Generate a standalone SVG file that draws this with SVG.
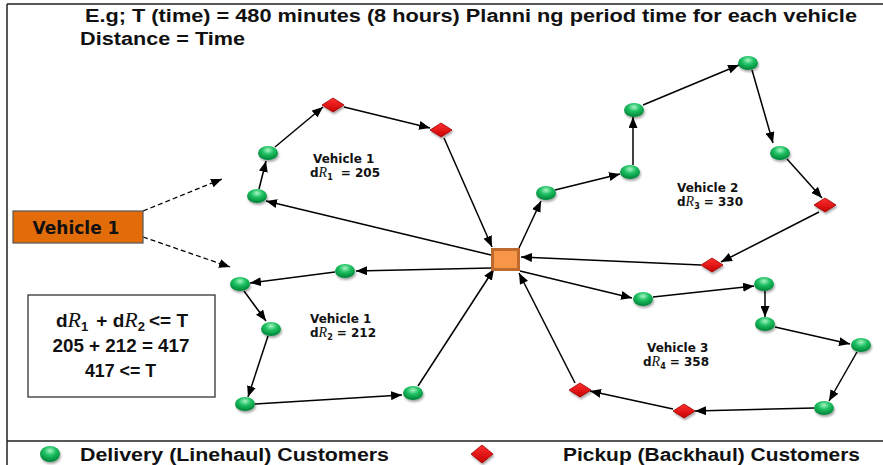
<svg xmlns="http://www.w3.org/2000/svg" width="883" height="465" viewBox="0 0 883 465">
<defs>
<radialGradient id="gG" cx="50%" cy="30%" r="65%">
<stop offset="0" stop-color="#a8f5c4"/>
<stop offset="0.45" stop-color="#1fc163"/>
<stop offset="1" stop-color="#00883a"/>
</radialGradient>
<linearGradient id="gR" x1="0" y1="0" x2="0" y2="1">
<stop offset="0" stop-color="#ff3030"/>
<stop offset="1" stop-color="#c80000"/>
</linearGradient>
<filter id="sh" x="-50%" y="-50%" width="200%" height="200%">
<feDropShadow dx="1" dy="2" stdDeviation="1.2" flood-color="#000" flood-opacity="0.35"/>
</filter>
<marker id="ah" markerUnits="userSpaceOnUse" markerWidth="11" markerHeight="9" refX="11" refY="4.5" orient="auto">
<path d="M0,0 L11,4.5 L0,9 z" fill="#000"/>
</marker>
<ellipse id="cust" rx="10" ry="7"/>
<polygon id="pick" points="-11,0 0,-7 11,0 0,7"/>
</defs>
<style>
.frame{stroke:#222;stroke-width:1.5;fill:none}
.e{stroke:#000;stroke-width:1.5;fill:none;marker-end:url(#ah)}
.d{stroke:#000;stroke-width:1.3;fill:none;stroke-dasharray:5 3;marker-end:url(#ah)}
.g{fill:url(#gG);filter:url(#sh)}
.r{fill:url(#gR);stroke:#a00000;stroke-width:0.8;filter:url(#sh)}
.t{font-family:"Liberation Sans",Arial,sans-serif;font-weight:bold;fill:#111}
.v{font-family:"DejaVu Sans",Verdana,sans-serif;font-weight:bold;font-size:12px;fill:#111}
.m{font-family:"Liberation Serif","DejaVu Serif",serif;font-style:italic;font-weight:normal}
</style>

<g id="frame">
<path class="frame" d="M7,4 H883 M7,4 V465 M7,441 H883"/>
</g>

<g id="title">
<text class="t" x="85" y="22" font-size="18" textLength="772" lengthAdjust="spacingAndGlyphs">E.g; T (time) = 480 minutes (8 hours) Planni ng period time for each vehicle</text>
<text class="t" x="80" y="45" font-size="18" textLength="165" lengthAdjust="spacingAndGlyphs">Distance = Time</text>
</g>

<g id="connectors">
<path class="d" d="M143,211 L222,179"/>
<path class="d" d="M143,237 L230,267"/>
<path class="e" d="M491,255 L266,201"/>
<path class="e" d="M259,189 L266,161"/>
<path class="e" d="M275,147 L323,107"/>
<path class="e" d="M344,107 L430,128"/>
<path class="e" d="M444,138 L492,247"/>
<path class="e" d="M491,268 L356,271"/>
<path class="e" d="M335,272 L250,283"/>
<path class="e" d="M244,291 L266,321"/>
<path class="e" d="M268,336 L248,397"/>
<path class="e" d="M255,404 L402,395"/>
<path class="e" d="M418,386 L494,269"/>
<path class="e" d="M519,248 L541,201"/>
<path class="e" d="M555,190 L620,174"/>
<path class="e" d="M633,165 L633,117"/>
<path class="e" d="M643,105 L739,65"/>
<path class="e" d="M752,70 L773,143"/>
<path class="e" d="M787,159 L822,198"/>
<path class="e" d="M819,212 L721,262"/>
<path class="e" d="M701,265 L521,257"/>
<path class="e" d="M520,271 L632,298"/>
<path class="e" d="M653,297 L754,286"/>
<path class="e" d="M765,291 L765,317"/>
<path class="e" d="M775,327 L850,344"/>
<path class="e" d="M857,352 L829,401"/>
<path class="e" d="M814,408 L695,411"/>
<path class="e" d="M673,409 L590,391"/>
<path class="e" d="M575,383 L519,273"/>
</g>

<g id="depot"><rect x="492.5" y="249.5" width="26" height="20" fill="#F79646" stroke="#BE6A2E" stroke-width="3"/></g>

<g id="vehicle1-box">
<rect x="13" y="211" width="130" height="32" fill="#E36C0A" stroke="#555" stroke-width="1.2"/>
<text class="v" x="76" y="234" style="font-size:17px" text-anchor="middle">Vehicle 1</text>
</g>

<g id="formula">
<rect x="28" y="295" width="187" height="102" fill="#fff" stroke="#222" stroke-width="1.2"/>
<text class="t" x="122" y="327" font-size="19" text-anchor="middle">d<tspan class="m" font-size="22">R</tspan><tspan font-size="13" dy="4">1</tspan><tspan dy="-4" dx="8">+ d</tspan><tspan class="m" font-size="22">R</tspan><tspan font-size="13" dy="4">2</tspan><tspan dy="-4" dx="4">&lt;= T</tspan></text>
<text class="t" x="121" y="352" font-size="19" text-anchor="middle" textLength="137" lengthAdjust="spacingAndGlyphs">205 + 212 = 417</text>
<text class="t" x="120.5" y="377" font-size="19" text-anchor="middle" textLength="71" lengthAdjust="spacingAndGlyphs">417 &lt;= T</text>
</g>

<g id="label-r1">
<text class="v" x="313" y="163">Vehicle 1</text>
<text class="v" x="310" y="177">d<tspan class="m" font-size="14">R</tspan><tspan font-size="8" dy="3">1</tspan><tspan dy="-3" dx="8">= 205</tspan></text>
</g>
<g id="label-r2">
<text class="v" x="310" y="323">Vehicle 1</text>
<text class="v" x="310" y="337">d<tspan class="m" font-size="14">R</tspan><tspan font-size="8" dy="3">2</tspan><tspan dy="-3" dx="4">= 212</tspan></text>
</g>
<g id="label-r3">
<text class="v" x="677" y="192">Vehicle 2</text>
<text class="v" x="677" y="206">d<tspan class="m" font-size="14">R</tspan><tspan font-size="8" dy="3">3</tspan><tspan dy="-3" dx="4">= 330</tspan></text>
</g>
<g id="label-r4">
<text class="v" x="647" y="352">Vehicle 3</text>
<text class="v" x="643" y="366">d<tspan class="m" font-size="14">R</tspan><tspan font-size="8" dy="3">4</tspan><tspan dy="-3" dx="4">= 358</tspan></text>
</g>

<g id="G1"><use href="#cust" class="g" x="257" y="196"/></g>
<g id="G2"><use href="#cust" class="g" x="268" y="153"/></g>
<g id="R1"><use href="#pick" class="r" x="333" y="105"/></g>
<g id="R2"><use href="#pick" class="r" x="441" y="130"/></g>
<g id="G3"><use href="#cust" class="g" x="345" y="271"/></g>
<g id="G4"><use href="#cust" class="g" x="240" y="284"/></g>
<g id="G5"><use href="#cust" class="g" x="271" y="329"/></g>
<g id="G6"><use href="#cust" class="g" x="245" y="404"/></g>
<g id="G7"><use href="#cust" class="g" x="413" y="393"/></g>
<g id="G8"><use href="#cust" class="g" x="546" y="193"/></g>
<g id="G9"><use href="#cust" class="g" x="630" y="172"/></g>
<g id="G10"><use href="#cust" class="g" x="634" y="110"/></g>
<g id="G11"><use href="#cust" class="g" x="748" y="63"/></g>
<g id="G12"><use href="#cust" class="g" x="780" y="153"/></g>
<g id="R3"><use href="#pick" class="r" x="825" y="205"/></g>
<g id="R4"><use href="#pick" class="r" x="712" y="265"/></g>
<g id="G13"><use href="#cust" class="g" x="643" y="299"/></g>
<g id="G14"><use href="#cust" class="g" x="764" y="284"/></g>
<g id="G15"><use href="#cust" class="g" x="765" y="324"/></g>
<g id="G16"><use href="#cust" class="g" x="861" y="345"/></g>
<g id="G17"><use href="#cust" class="g" x="824" y="408"/></g>
<g id="R5"><use href="#pick" class="r" x="684" y="411"/></g>
<g id="R6"><use href="#pick" class="r" x="580" y="390"/></g>

<g id="legend">
<ellipse cx="50" cy="454" rx="10" ry="8" class="g"/>
<text class="t" x="80" y="461" font-size="18" textLength="309" lengthAdjust="spacingAndGlyphs">Delivery (Linehaul) Customers</text>
<polygon points="471,454 482,445 493,454 482,463" class="r"/>
<text class="t" x="563" y="461" font-size="18" textLength="297" lengthAdjust="spacingAndGlyphs">Pickup (Backhaul) Customers</text>
</g>
</svg>
